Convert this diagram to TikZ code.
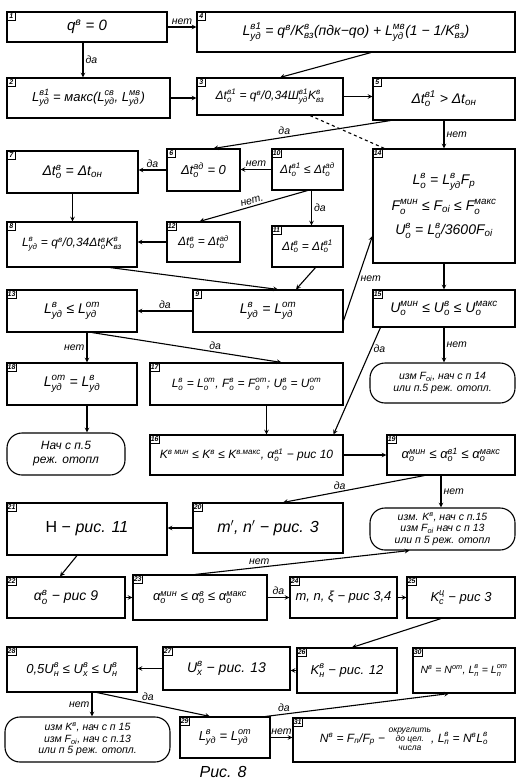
\documentclass[tikz,border=0pt]{standalone}
\usepackage{fontspec}
\setmainfont{Liberation Sans}
\usepackage{amsmath}

\newcommand{\sv}[3]{$\text{#1}^{\text{#2}}_{\text{#3}}$}
\newcommand{\su}[2]{$\text{#1}_{\text{#2}}$}

\begin{document}
\begin{tikzpicture}[x=1pt, y=-1pt]
        % Define styles
        \tikzstyle{blk} = [rectangle, draw=black, line width=1.1pt, align=center, inner sep=2pt, font=\itshape\fontsize{13}{15}\selectfont]
        \tikzstyle{term} = [blk, rounded corners=15pt]
        \tikzstyle{f10} = [font=\itshape\fontsize{10.5}{12}\selectfont]
        \tikzstyle{f12} = [font=\itshape\fontsize{12}{14}\selectfont]
        \tikzstyle{f14} = [font=\itshape\fontsize{14}{16}\selectfont]
        \tikzstyle{fxs} = [font=\itshape\fontsize{10.5}{11.5}\selectfont]
        \tikzstyle{num} = [draw=black, line width=0.6pt, anchor=north west, inner sep=1pt, minimum size=9pt, font=\itshape\bfseries\fontsize{7}{7}\selectfont]
        \tikzstyle{arrow} = [line width=1.1pt, ->, >=stealth]
        \tikzstyle{lbl} = [font=\itshape\fontsize{10.5}{10.5}\selectfont, inner sep=2pt]

        \useasboundingbox (0,0) rectangle (517,781);

        % Nodes
        \node (b1) [blk, font=\itshape\fontsize{15}{17}\selectfont, minimum width=160pt, minimum height=30pt, label={[num]north west:1}] at (87,27) {q\textsuperscript{в} = 0};
        \node (b4) [blk, f14, minimum width=318pt, minimum height=40pt, label={[num]north west:4}] at (356,32) {\sv{L}{в1}{уд} = q\textsuperscript{в}/\sv{K}{в}{вз}(пдк−qо) + \sv{L}{мв}{уд}(1 − 1/\sv{K}{в}{вз})};
        \node (b2) [blk, minimum width=163pt, minimum height=40pt, label={[num]north west:2}] at (88.5,98) {\sv{L}{в1}{уд} = макс(\sv{L}{св}{уд}, \sv{L}{мв}{уд})};
        \node (b3) [blk, f12, minimum width=146pt, minimum height=37pt, label={[num]north west:3}] at (270,96.5) {Δ\sv{t}{в1}{о} = q\textsuperscript{в}/0,34\sv{Ш}{в1}{уд}\sv{K}{в}{вз}};
        \node (b5) [blk, f14, minimum width=142pt, minimum height=42pt, label={[num]north west:5}] at (444,99) {Δ\sv{t}{в1}{о} > Δ\su{t}{он}};
        \node (b7) [blk, f14, minimum width=131pt, minimum height=42pt, label={[num]north west:7}] at (72.5,172) {Δ\sv{t}{в}{о} = Δ\su{t}{он}};
        \node (b6) [blk, minimum width=73pt, minimum height=42pt, label={[num]north west:6}] at (203.5,170) {Δ\sv{t}{ад}{о} = 0};
        \node (b10) [blk, f12, minimum width=71pt, minimum height=41pt, label={[num]north west:10}] at (307.5,169.5) {Δ\sv{t}{в1}{о} ≤ Δ\sv{t}{ад}{о}};
        \node (b14) [blk, f14, minimum width=142pt, minimum height=114pt, label={[num]north west:14}] at (444,206) {\sv{L}{в}{о} = \sv{L}{в}{уд}\su{F}{р}\\[8pt] \sv{F}{мин}{о} ≤ \su{F}{оi} ≤ \sv{F}{макс}{о}\\[8pt] \sv{U}{в}{о} = \sv{L}{в}{о}/3600\su{F}{оi}};
        \node (b8) [blk, f12, minimum width=130pt, minimum height=45pt, label={[num]north west:8}] at (72,244.5) {\sv{L}{в}{уд} = q\textsuperscript{в}/0,34Δ\sv{t}{в}{о}\sv{K}{в}{вз}};
        \node (b12) [blk, f12, minimum width=73pt, minimum height=40pt, label={[num]north west:12}] at (203.5,242) {Δ\sv{t}{в}{о} = Δ\sv{t}{ад}{о}};
        \node (b11) [blk, f12, minimum width=71pt, minimum height=41pt, label={[num]north west:11}] at (307.5,246.5) {Δ\sv{t}{в}{о} = Δ\sv{t}{в1}{о}};
        \node (b13) [blk, f14, minimum width=130pt, minimum height=42pt, label={[num]north west:13}] at (72,311) {\sv{L}{в}{уд} ≤ \sv{L}{от}{уд}};
        \node (b9) [blk, f14, minimum width=150pt, minimum height=42pt, label={[num]north west:9}] at (268,311) {\sv{L}{в}{уд} = \sv{L}{от}{уд}};
        \node (b15) [blk, f14, minimum width=142pt, minimum height=37pt, label={[num]north west:15}] at (444,308.5) {\sv{U}{мин}{о} ≤ \sv{U}{в}{о} ≤ \sv{U}{макс}{о}};
        \node (b18) [blk, f14, minimum width=130pt, minimum height=42pt, label={[num]north west:18}] at (72,384) {\sv{L}{от}{уд} = \sv{L}{в}{уд}};
        \node (b17) [blk, f12, minimum width=193pt, minimum height=42pt, label={[num]north west:17}] at (246.5,384) {\sv{L}{в}{о} = \sv{L}{от}{о}, \sv{F}{в}{о} = \sv{F}{от}{о}; \sv{U}{в}{о} = \sv{U}{от}{о}};
        \node (t1) [term, fxs, minimum width=145pt, minimum height=40pt] at (442.5,383) {изм F\textsubscript{оi}, нач с п 14\\или п.5 реж. отопл.};
        \node (t2) [term, f12, minimum width=118pt, minimum height=42pt] at (66,454) {Нач с п.5\\реж. отопл};
        \node (b16) [blk, f12, minimum width=193pt, minimum height=40pt, label={[num]north west:16}] at (246.5,455) {K\textsuperscript{в мин} ≤ K\textsuperscript{в} ≤ K\textsuperscript{в.макс}, \sv{α}{в1}{о} − рис 10};
        \node (b19) [blk, minimum width=128pt, minimum height=40pt, label={[num]north west:19}] at (451,455) {\sv{α}{мин}{о} ≤ \sv{α}{в1}{о} ≤ \sv{α}{макс}{о}};
        \node (b21) [blk, font=\fontsize{16}{18}\selectfont, minimum width=160pt, minimum height=52pt, label={[num]north west:21}] at (87,529) {Н − \textit{рис. 11}};
        \node (b20) [blk, font=\itshape\fontsize{16}{18}\selectfont, minimum width=150pt, minimum height=50pt, label={[num]north west:20}] at (268,528) {m$'$, n$'$ − рис. 3};
        \node (t3) [term, fxs, minimum width=145pt, minimum height=42pt] at (442.5,529) {изм. K\textsuperscript{в}, нач с п.15\\изм F\textsubscript{оi} нач с п 13\\или п 5 реж. отопл};
        \node (b22) [blk, f14, minimum width=118pt, minimum height=41pt, label={[num]north west:22}] at (66,597.5) {\sv{α}{в}{о} − рис 9};
        \node (b23) [blk, minimum width=134pt, minimum height=45pt, label={[num]north west:23}] at (200,597.5) {\sv{α}{мин}{о} ≤ \sv{α}{в}{о} ≤ \sv{α}{макс}{о}};
        \node (b24) [blk, minimum width=107pt, minimum height=41pt, label={[num]north west:24}] at (343.5,597.5) {m, n, ξ − рис 3,4};
        \node (b25) [blk, minimum width=108pt, minimum height=41pt, label={[num]north west:25}] at (461,597.5) {\sv{K}{ц}{с} − рис 3};
        \node (b28) [blk, minimum width=130pt, minimum height=45pt, label={[num]north west:28}] at (72,669.5) {0,5\sv{U}{в}{н} ≤ \sv{U}{в}{х} ≤ \sv{U}{в}{н}};
        \node (b27) [blk, f14, minimum width=127pt, minimum height=43pt, label={[num]north west:27}] at (226.5,668.5) {\sv{U}{в}{х} − рис. 13};
        \node (b26) [blk, minimum width=100pt, minimum height=45pt, label={[num]north west:26}] at (347,670.5) {\sv{K}{в}{н} − рис. 12};
        \node (b30) [blk, f10, minimum width=102pt, minimum height=45pt, label={[num]north west:30}] at (464,670.5) {N\textsuperscript{в} = N\textsuperscript{от}, \sv{L}{в}{п} = \sv{L}{от}{п}};
        \node (t4) [term, fxs, minimum width=165pt, minimum height=45pt] at (87.5,739.5) {изм K\textsuperscript{в}, нач с п 15\\изм F\textsubscript{оi}, нач с п.13\\или п 5 реж. отопл.};
        \node (b29) [blk, minimum width=90pt, minimum height=41pt, label={[num]north west:29}] at (225,737.5) {\sv{L}{в}{уд} = \sv{L}{от}{уд}};
        \node (b31) [blk, f12, minimum width=222pt, minimum height=44pt, label={[num]north west:31}] at (404,740) {N\textsuperscript{в} = F\textsubscript{п}/F\textsubscript{р} − {\fontsize{8.5}{9}\selectfont\begin{tabular}[c]{@{}c@{}}округлить\\до цел.\\числа\end{tabular}}, \sv{L}{в}{п} = N\textsuperscript{в}\sv{L}{в}{о}};
        \node (cap) [font=\itshape\fontsize{16}{17}\selectfont] at (223,772) {Рис. 8};

        % Arrows
        \draw [arrow] (b1.east) -- node[lbl, above] {нет} (b1.east -| b4.west);
        \draw [arrow] ([xshift=-4pt]b1.south) -- node[lbl, right] {да} ([xshift=-4pt]b1.south |- b2.north);
        \draw [arrow] (b2.east) -- (b2.east -| b3.west);
        \draw [arrow] ([xshift=15pt]b4.south) -- ([xshift=10pt]b3.north);
        \draw [arrow] (b3.east) -- (b3.east -| b5.west);
        \draw [arrow] ([xshift=18pt]b5.south west) -- node[lbl, above, pos=0.6] {да} ([xshift=10pt]b6.north);
        \draw [arrow] (b5.south) -- node[lbl, right] {нет} (b5.south |- b14.north);
        \draw [line width=1.1pt, dashed] ([xshift=40pt]b3.south) -- ([xshift=12pt]b14.north west);
        \draw [arrow] (b6.west) -- node[lbl, above] {да} (b6.west -| b7.east);
        \draw [arrow] (b10.west) -- node[lbl, above] {нет} (b10.west -| b6.east);
        \draw [arrow] ([xshift=4pt]b10.south) -- node[lbl, right] {да} ([xshift=4pt]b10.south |- b11.north);
        \draw [arrow] (b10.south) -- node[lbl, above, sloped] {нет.} ([xshift=-4pt]b12.north);
        \draw [arrow] (b7.south) -- (b7.south |- b8.north);
        \draw [arrow] (b12.west) -- (b12.west -| b8.east);
        \draw [arrow] ([xshift=38pt]b8.south) -- ([xshift=10pt]b9.north);
        \draw [arrow] ([xshift=8pt]b11.south) -- ([xshift=28pt]b9.north);
        \draw [arrow] (b9.west) -- node[lbl, above] {да} (b9.west -| b13.east);
        \draw [arrow] ([yshift=12pt]b9.south east) -- node[lbl, right] {нет} ([yshift=-30pt]b14.west);
        \draw [arrow] (b14.south) -- (b14.south |- b15.north);
        \draw [arrow] ([xshift=15pt]b13.south) -- node[lbl, left] {нет} ([xshift=15pt]b13.south |- b18.north);
        \draw [arrow] ([xshift=20pt]b13.south) -- node[lbl, above, pos=0.65] {да} ([xshift=35pt]b17.north);
        \draw [arrow] (b15.south) -- node[lbl, right] {нет} (b15.south |- t1.north);
        \draw [arrow] ([xshift=8pt]b15.south west) -- node[lbl, right, pos=0.2] {да} ([xshift=-10pt]b16.north east);
        \draw [arrow] ([xshift=15pt]b18.south) -- ([xshift=15pt]b18.south |- t2.north);
        \draw [arrow] ([xshift=20pt]b17.south) -- ([xshift=20pt]b17.south |- b16.north);
        \draw [arrow] (b16.east) -- (b16.east -| b19.west);
        \draw [arrow] ([xshift=38pt]b19.south west) -- node[lbl, above, pos=0.6] {да} ([xshift=15pt]b20.north);
        \draw [arrow] ([xshift=-10pt]b19.south) -- node[lbl, right] {нет} ([xshift=-10pt]b19.south |- t3.north);
        \draw [arrow] (b20.west) -- (b20.west -| b21.east);
        \draw [arrow] ([xshift=-10pt]b21.south) -- ([xshift=-6pt]b22.north);
        \draw [arrow] ([xshift=-5pt]b23.north) -- node[lbl, above, pos=0.3] {нет} ([xshift=40pt]t3.south west);
        \draw [arrow] (b22.east) -- (b22.east -| b23.west);
        \draw [arrow] (b23.east) -- node[lbl, above] {да} (b23.east -| b24.west);
        \draw [arrow] (b24.east) -- (b24.east -| b25.west);
        \draw [arrow] ([xshift=-20pt]b25.south) -- ([xshift=5pt]b26.north);
        \draw [arrow] (b26.west) -- (b26.west -| b27.east);
        \draw [arrow] (b27.west) -- (b27.west -| b28.east);
        \draw [arrow] ([xshift=20pt]b28.south) -- node[lbl, left] {нет} ([xshift=20pt]b28.south |- t4.north);
        \draw [arrow] ([xshift=25pt]b28.south) -- node[lbl, above, pos=0.45] {да} ([xshift=-15pt]b29.north);
        \draw [arrow] (b29.east) -- node[lbl, above] {нет} (b29.east -| b31.west);
        \draw [arrow] ([xshift=-5pt]b29.north east) -- node[lbl, above, pos=0.1] {да} ([xshift=-15pt]b30.south);
    \end{tikzpicture}
\end{document}
